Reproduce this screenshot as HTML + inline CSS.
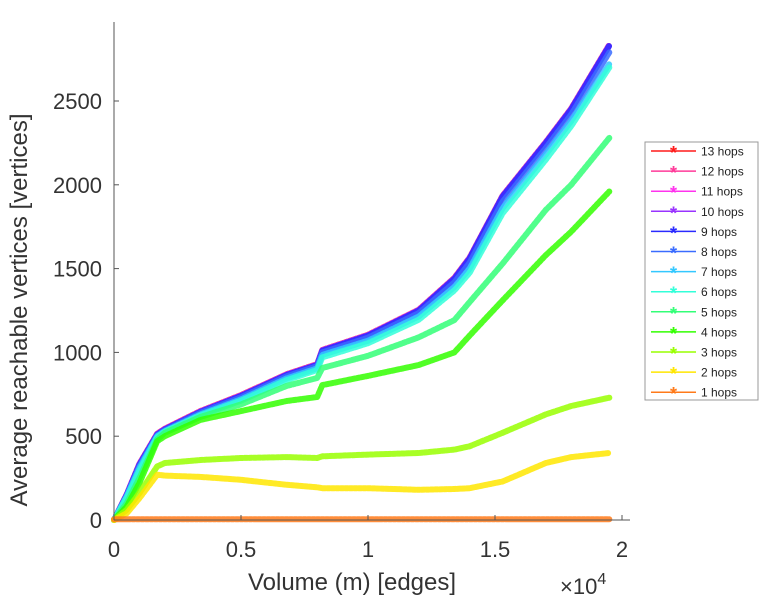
<!DOCTYPE html>
<html><head><meta charset="utf-8"><style>
body{margin:0;background:#fff;font-family:"Liberation Sans",sans-serif}
svg{display:block}
</style></head><body>
<svg id="chart" width="768" height="600" viewBox="0 0 768 600" xmlns="http://www.w3.org/2000/svg">
<g id="series"></g>
<g id="axes" stroke="#555" stroke-width="1" fill="none"></g>
<g id="labels" font-family="Liberation Sans, sans-serif" fill="#333"></g>
<g id="legend"></g>
</svg>
<script>
const xs=[0,0.05,0.1,0.17,0.2,0.34,0.5,0.68,0.8,0.82,1.0,1.2,1.34,1.4,1.53,1.7,1.8,1.95];
const h13=[0,152,335,515,545,650,745,870,930,1015,1105,1255,1445,1565,1935,2255,2455,2835];
const h12=[0,152,334,514,544,649,744,869,929,1014,1104,1254,1444,1564,1934,2254,2454,2834];
const h11=[0,151,333,513,543,648,743,868,928,1013,1103,1253,1443,1563,1933,2253,2453,2833];
const h10=[0,151,332,512,542,647,742,867,927,1012,1102,1252,1442,1562,1932,2252,2452,2832];
const h9=[0,150,330,510,540,645,740,865,925,1010,1100,1250,1440,1560,1930,2250,2450,2830];
const h8=[0,146,322,506,536,640,732,858,918,1000,1088,1235,1418,1535,1900,2220,2420,2790];
const h7=[0,140,310,500,530,630,720,845,905,985,1070,1215,1390,1500,1860,2180,2380,2720];
const h6=[0,132,295,495,528,625,712,835,895,970,1055,1195,1370,1475,1830,2150,2350,2700];
const h5=[0,100,250,480,520,615,690,800,847,907,980,1090,1193,1300,1530,1850,2000,2280];
const h4=[0,80,220,470,500,597,650,710,734,805,860,925,1000,1100,1310,1580,1720,1960];
const h3=[0,60,160,320,340,358,370,375,370,380,390,400,420,440,520,630,680,730];
const h2=[0,40,130,270,265,257,240,210,195,190,190,180,185,190,230,340,375,400];
const h1=[5,5,5,5,5,5,5,5,5,5,5,5,5,5,5,5,5,5];
const seriesNames=["13 hops","12 hops","11 hops","10 hops","9 hops","8 hops","7 hops","6 hops","5 hops","4 hops","3 hops","2 hops","1 hops"];
const seriesVals=[h13,h12,h11,h10,h9,h8,h7,h6,h5,h4,h3,h2,h1];
const colors=["#ff1a1a","#ff3a99","#ff33ee","#9933ff","#2a2aff","#3a6cff","#33c8ff","#33ffd9","#33ff77","#33ff00","#99ff00","#ffe600","#ff7a1a"];
const xTicks=[0,0.5,1,1.5,2];
const xTickLabels=["0","0.5","1","1.5","2"];
const yTicks=[0,500,1000,1500,2000,2500];
const yTickLabels=["0","500","1000","1500","2000","2500"];
const NS="http://www.w3.org/2000/svg";
const X0=114,X1=622,Y0=520;
function sx(v){return X0+(X1-X0)*v/2;}
function sy(v){return Y0-v*0.1676;}
function mk(tag,attrs,parent){const e=document.createElementNS(NS,tag);for(const k in attrs)e.setAttribute(k,attrs[k]);parent.appendChild(e);return e;}
const sg=document.getElementById('series');
for(let i=0;i<seriesVals.length;i++){
  const pts=xs.map((x,j)=>sx(x).toFixed(1)+","+sy(seriesVals[i][j]).toFixed(1)).join(" ");
  const pl=mk('polyline',{points:pts,fill:'none',stroke:colors[i],'stroke-width':6,'stroke-opacity':0.85,'stroke-linejoin':'round','stroke-linecap':'round','stroke-dasharray':'3 1.5'},sg);
  
  
}
const ax=document.getElementById('axes');
const yl=mk('line',{x1:X0,y1:22,x2:X0,y2:Y0},ax);


const xl=mk('line',{x1:X0,y1:Y0,x2:630,y2:Y0},ax);


const lb=document.getElementById('labels');
xTicks.forEach((t,i)=>{
  mk('line',{x1:sx(t),y1:Y0,x2:sx(t),y2:Y0-5},ax);
  const tx=mk('text',{x:sx(t),y:557,'font-size':22,'text-anchor':'middle'},lb);
  tx.textContent=xTickLabels[i];
  
  
});
yTicks.forEach((t,i)=>{
  mk('line',{x1:X0,y1:sy(t),x2:X0+5,y2:sy(t)},ax);
  const tx=mk('text',{x:102,y:sy(t)+8,'font-size':22,'text-anchor':'end'},lb);
  tx.textContent=yTickLabels[i];
  
  
});
const xt=mk('text',{x:352,y:590,'font-size':24,'text-anchor':'middle'},lb);
xt.textContent="Volume (m) [edges]";


const ex=mk('text',{x:560,y:594,'font-size':22},lb);
ex.innerHTML='×10<tspan dy="-10" font-size="16">4</tspan>';


const yt=mk('text',{x:0,y:0,'font-size':24,'text-anchor':'middle',transform:'translate(27,310) rotate(-90)'},lb);
yt.textContent="Average reachable vertices [vertices]";


const lg=document.getElementById('legend');
const box=mk('rect',{x:645,y:142,width:113,height:258,fill:'#fff',stroke:'#999','stroke-width':1},lg);


seriesNames.forEach((n,i)=>{
  const y=151+i*20.1;
  const g=mk('g',{},lg);
  
  
  mk('line',{x1:651,y1:y,x2:696,y2:y,stroke:colors[i],'stroke-width':1.5},g);
  mk('text',{x:673.5,y:y+8,'font-size':18,'text-anchor':'middle',fill:colors[i],'font-weight':'bold'},g).textContent='*';
  const t=mk('text',{x:701,y:y+4.5,'font-size':12,fill:'#222'},g);
  t.textContent=n;
});
</script>
</body></html>
